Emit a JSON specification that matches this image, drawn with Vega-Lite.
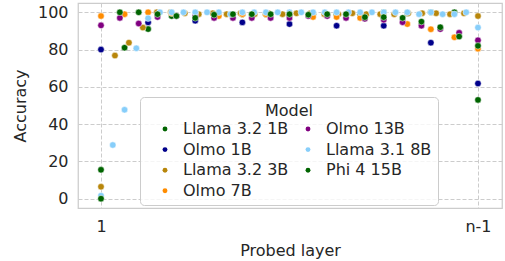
{
  "$schema": "https://vega.github.io/schema/vega-lite/v6.json",
  "width": 424,
  "height": 205,
  "autosize": {"type": "none"},
  "padding": {"left": 78, "top": 3, "right": 3, "bottom": 53},
  "background": "white",
  "config": {
    "font": "DejaVu Sans",
    "view": {"stroke": "#cccccc", "strokeWidth": 1.25},
    "axis": {"labelFontSize": 16, "titleFontSize": 16, "labelColor": "#262626", "titleColor": "#262626", "titleFontWeight": "normal", "domain": false, "ticks": false, "gridColor": "#cccccc", "gridDash": [4, 2], "gridWidth": 1, "labelPadding": 10},
    "legend": {"labelFontSize": 16, "titleFontSize": 16, "titleFontWeight": "normal", "labelColor": "#262626", "titleColor": "#262626", "symbolSize": 24, "symbolStrokeWidth": 0, "symbolType": "circle", "padding": 6, "cornerRadius": 4, "strokeColor": "#cccccc", "fillColor": "rgba(255,255,255,0.8)", "titleAnchor": "middle", "titlePadding": 2, "rowPadding": 4.6, "columnPadding": -2, "labelOffset": 10, "symbolOffset": 11}
  },
  "data": {"values": [
    {"m": "Llama 3.2 1B", "x": 0, "y": 15.5},
    {"m": "Llama 3.2 1B", "x": 0.0625, "y": 81},
    {"m": "Llama 3.2 1B", "x": 0.125, "y": 91},
    {"m": "Llama 3.2 1B", "x": 0.1875, "y": 98},
    {"m": "Llama 3.2 1B", "x": 0.25, "y": 99},
    {"m": "Llama 3.2 1B", "x": 0.3125, "y": 99},
    {"m": "Llama 3.2 1B", "x": 0.375, "y": 99},
    {"m": "Llama 3.2 1B", "x": 0.4375, "y": 99},
    {"m": "Llama 3.2 1B", "x": 0.5, "y": 99},
    {"m": "Llama 3.2 1B", "x": 0.5625, "y": 99},
    {"m": "Llama 3.2 1B", "x": 0.625, "y": 99},
    {"m": "Llama 3.2 1B", "x": 0.6875, "y": 99},
    {"m": "Llama 3.2 1B", "x": 0.75, "y": 100},
    {"m": "Llama 3.2 1B", "x": 0.8125, "y": 99.5},
    {"m": "Llama 3.2 1B", "x": 0.875, "y": 100},
    {"m": "Llama 3.2 1B", "x": 0.9375, "y": 100},
    {"m": "Llama 3.2 1B", "x": 1, "y": 53},
    {"m": "Olmo 1B", "x": 0, "y": 80},
    {"m": "Olmo 1B", "x": 0.125, "y": 94.6},
    {"m": "Olmo 1B", "x": 0.25, "y": 95.5},
    {"m": "Olmo 1B", "x": 0.375, "y": 94.6},
    {"m": "Olmo 1B", "x": 0.5, "y": 93.7},
    {"m": "Olmo 1B", "x": 0.625, "y": 92.8},
    {"m": "Olmo 1B", "x": 0.75, "y": 92.8},
    {"m": "Olmo 1B", "x": 0.875, "y": 83.7},
    {"m": "Olmo 1B", "x": 1, "y": 61.8},
    {"m": "Llama 3.2 3B", "x": 0, "y": 6.4},
    {"m": "Llama 3.2 3B", "x": 0.037, "y": 76.8},
    {"m": "Llama 3.2 3B", "x": 0.0741, "y": 83.7},
    {"m": "Llama 3.2 3B", "x": 0.1111, "y": 91.8},
    {"m": "Llama 3.2 3B", "x": 0.1481, "y": 100},
    {"m": "Llama 3.2 3B", "x": 0.1852, "y": 100},
    {"m": "Llama 3.2 3B", "x": 0.2222, "y": 99.5},
    {"m": "Llama 3.2 3B", "x": 0.2593, "y": 99},
    {"m": "Llama 3.2 3B", "x": 0.2963, "y": 99.5},
    {"m": "Llama 3.2 3B", "x": 0.3333, "y": 99},
    {"m": "Llama 3.2 3B", "x": 0.3704, "y": 99.5},
    {"m": "Llama 3.2 3B", "x": 0.4074, "y": 99},
    {"m": "Llama 3.2 3B", "x": 0.4444, "y": 99.5},
    {"m": "Llama 3.2 3B", "x": 0.4815, "y": 99},
    {"m": "Llama 3.2 3B", "x": 0.5185, "y": 99.5},
    {"m": "Llama 3.2 3B", "x": 0.5556, "y": 99.5},
    {"m": "Llama 3.2 3B", "x": 0.5926, "y": 99},
    {"m": "Llama 3.2 3B", "x": 0.6296, "y": 99},
    {"m": "Llama 3.2 3B", "x": 0.6667, "y": 99.5},
    {"m": "Llama 3.2 3B", "x": 0.7037, "y": 99},
    {"m": "Llama 3.2 3B", "x": 0.7407, "y": 99},
    {"m": "Llama 3.2 3B", "x": 0.7778, "y": 99},
    {"m": "Llama 3.2 3B", "x": 0.8148, "y": 99.5},
    {"m": "Llama 3.2 3B", "x": 0.8519, "y": 99.5},
    {"m": "Llama 3.2 3B", "x": 0.8889, "y": 99.5},
    {"m": "Llama 3.2 3B", "x": 0.9259, "y": 99},
    {"m": "Llama 3.2 3B", "x": 0.963, "y": 99.5},
    {"m": "Llama 3.2 3B", "x": 1, "y": 98},
    {"m": "Olmo 7B", "x": 0, "y": 98},
    {"m": "Olmo 7B", "x": 0.0625, "y": 99},
    {"m": "Olmo 7B", "x": 0.125, "y": 100},
    {"m": "Olmo 7B", "x": 0.1875, "y": 99.5},
    {"m": "Olmo 7B", "x": 0.25, "y": 99},
    {"m": "Olmo 7B", "x": 0.3125, "y": 98},
    {"m": "Olmo 7B", "x": 0.375, "y": 99},
    {"m": "Olmo 7B", "x": 0.4375, "y": 99},
    {"m": "Olmo 7B", "x": 0.5, "y": 99},
    {"m": "Olmo 7B", "x": 0.5625, "y": 97.5},
    {"m": "Olmo 7B", "x": 0.625, "y": 97.5},
    {"m": "Olmo 7B", "x": 0.6875, "y": 97},
    {"m": "Olmo 7B", "x": 0.75, "y": 99.5},
    {"m": "Olmo 7B", "x": 0.8125, "y": 93.7},
    {"m": "Olmo 7B", "x": 0.875, "y": 90.9},
    {"m": "Olmo 7B", "x": 0.9375, "y": 86.6},
    {"m": "Olmo 7B", "x": 1, "y": 80.5},
    {"m": "Olmo 13B", "x": 0, "y": 93},
    {"m": "Olmo 13B", "x": 0.05, "y": 97},
    {"m": "Olmo 13B", "x": 0.1, "y": 94},
    {"m": "Olmo 13B", "x": 0.15, "y": 97.5},
    {"m": "Olmo 13B", "x": 0.2, "y": 98},
    {"m": "Olmo 13B", "x": 0.25, "y": 98},
    {"m": "Olmo 13B", "x": 0.3, "y": 97},
    {"m": "Olmo 13B", "x": 0.35, "y": 97},
    {"m": "Olmo 13B", "x": 0.4, "y": 97},
    {"m": "Olmo 13B", "x": 0.45, "y": 97},
    {"m": "Olmo 13B", "x": 0.5, "y": 97},
    {"m": "Olmo 13B", "x": 0.55, "y": 98},
    {"m": "Olmo 13B", "x": 0.6, "y": 98},
    {"m": "Olmo 13B", "x": 0.65, "y": 97},
    {"m": "Olmo 13B", "x": 0.7, "y": 96.5},
    {"m": "Olmo 13B", "x": 0.75, "y": 96},
    {"m": "Olmo 13B", "x": 0.8, "y": 94.7},
    {"m": "Olmo 13B", "x": 0.85, "y": 92.8},
    {"m": "Olmo 13B", "x": 0.9, "y": 91},
    {"m": "Olmo 13B", "x": 0.95, "y": 89},
    {"m": "Olmo 13B", "x": 1, "y": 85},
    {"m": "Llama 3.1 8B", "x": 0, "y": 1.6},
    {"m": "Llama 3.1 8B", "x": 0.03125, "y": 28.8},
    {"m": "Llama 3.1 8B", "x": 0.0625, "y": 47.7},
    {"m": "Llama 3.1 8B", "x": 0.09375, "y": 80.7},
    {"m": "Llama 3.1 8B", "x": 0.125, "y": 96.8},
    {"m": "Llama 3.1 8B", "x": 0.15625, "y": 100},
    {"m": "Llama 3.1 8B", "x": 0.1875, "y": 100},
    {"m": "Llama 3.1 8B", "x": 0.21875, "y": 100},
    {"m": "Llama 3.1 8B", "x": 0.25, "y": 100},
    {"m": "Llama 3.1 8B", "x": 0.28125, "y": 100},
    {"m": "Llama 3.1 8B", "x": 0.3125, "y": 100},
    {"m": "Llama 3.1 8B", "x": 0.34375, "y": 99},
    {"m": "Llama 3.1 8B", "x": 0.375, "y": 100},
    {"m": "Llama 3.1 8B", "x": 0.40625, "y": 100},
    {"m": "Llama 3.1 8B", "x": 0.4375, "y": 100},
    {"m": "Llama 3.1 8B", "x": 0.46875, "y": 100},
    {"m": "Llama 3.1 8B", "x": 0.5, "y": 100},
    {"m": "Llama 3.1 8B", "x": 0.53125, "y": 100},
    {"m": "Llama 3.1 8B", "x": 0.5625, "y": 100},
    {"m": "Llama 3.1 8B", "x": 0.59375, "y": 100},
    {"m": "Llama 3.1 8B", "x": 0.625, "y": 100},
    {"m": "Llama 3.1 8B", "x": 0.65625, "y": 100},
    {"m": "Llama 3.1 8B", "x": 0.6875, "y": 100},
    {"m": "Llama 3.1 8B", "x": 0.71875, "y": 100},
    {"m": "Llama 3.1 8B", "x": 0.75, "y": 100},
    {"m": "Llama 3.1 8B", "x": 0.78125, "y": 100},
    {"m": "Llama 3.1 8B", "x": 0.8125, "y": 100},
    {"m": "Llama 3.1 8B", "x": 0.84375, "y": 99},
    {"m": "Llama 3.1 8B", "x": 0.875, "y": 100},
    {"m": "Llama 3.1 8B", "x": 0.90625, "y": 99},
    {"m": "Llama 3.1 8B", "x": 0.9375, "y": 99},
    {"m": "Llama 3.1 8B", "x": 0.96875, "y": 100},
    {"m": "Llama 3.1 8B", "x": 1, "y": 91.8},
    {"m": "Phi 4 15B", "x": 0, "y": 0},
    {"m": "Phi 4 15B", "x": 0.05, "y": 100},
    {"m": "Phi 4 15B", "x": 0.1, "y": 100},
    {"m": "Phi 4 15B", "x": 0.15, "y": 99},
    {"m": "Phi 4 15B", "x": 0.2, "y": 98},
    {"m": "Phi 4 15B", "x": 0.25, "y": 97},
    {"m": "Phi 4 15B", "x": 0.3, "y": 98.7},
    {"m": "Phi 4 15B", "x": 0.35, "y": 99},
    {"m": "Phi 4 15B", "x": 0.4, "y": 99},
    {"m": "Phi 4 15B", "x": 0.45, "y": 99},
    {"m": "Phi 4 15B", "x": 0.5, "y": 99},
    {"m": "Phi 4 15B", "x": 0.55, "y": 98.7},
    {"m": "Phi 4 15B", "x": 0.6, "y": 99},
    {"m": "Phi 4 15B", "x": 0.65, "y": 99},
    {"m": "Phi 4 15B", "x": 0.7, "y": 97.4},
    {"m": "Phi 4 15B", "x": 0.75, "y": 97.4},
    {"m": "Phi 4 15B", "x": 0.8, "y": 97},
    {"m": "Phi 4 15B", "x": 0.85, "y": 95},
    {"m": "Phi 4 15B", "x": 0.9, "y": 92},
    {"m": "Phi 4 15B", "x": 0.95, "y": 87},
    {"m": "Phi 4 15B", "x": 1, "y": 82}
  ]},
  "mark": {"type": "point", "filled": true, "size": 42, "opacity": 1, "stroke": "white", "strokeWidth": 0.5},
  "encoding": {
    "x": {"field": "x", "type": "quantitative", "scale": {"domain": [-0.061, 1.0637], "nice": false, "zero": false}, "axis": {"values": [0, 1], "labelExpr": "datum.value == 0 ? '1' : 'n-1'", "title": "Probed layer", "titlePadding": 8}},
    "y": {"field": "y", "type": "quantitative", "scale": {"domain": [-5, 105], "nice": false, "zero": false}, "axis": {"values": [0, 20, 40, 60, 80, 100], "title": "Accuracy", "titlePadding": 9}},
    "color": {"field": "m", "type": "nominal", "scale": {"domain": ["Llama 3.2 1B", "Olmo 1B", "Llama 3.2 3B", "Olmo 7B", "Olmo 13B", "Llama 3.1 8B", "Phi 4 15B"], "range": ["#006400", "#00008b", "#b8860b", "#ff8c00", "#800080", "#87cefa", "#006400"]}, "legend": {"title": "Model", "orient": "none", "legendX": 62, "legendY": 94, "columns": 2}}
  }
}
